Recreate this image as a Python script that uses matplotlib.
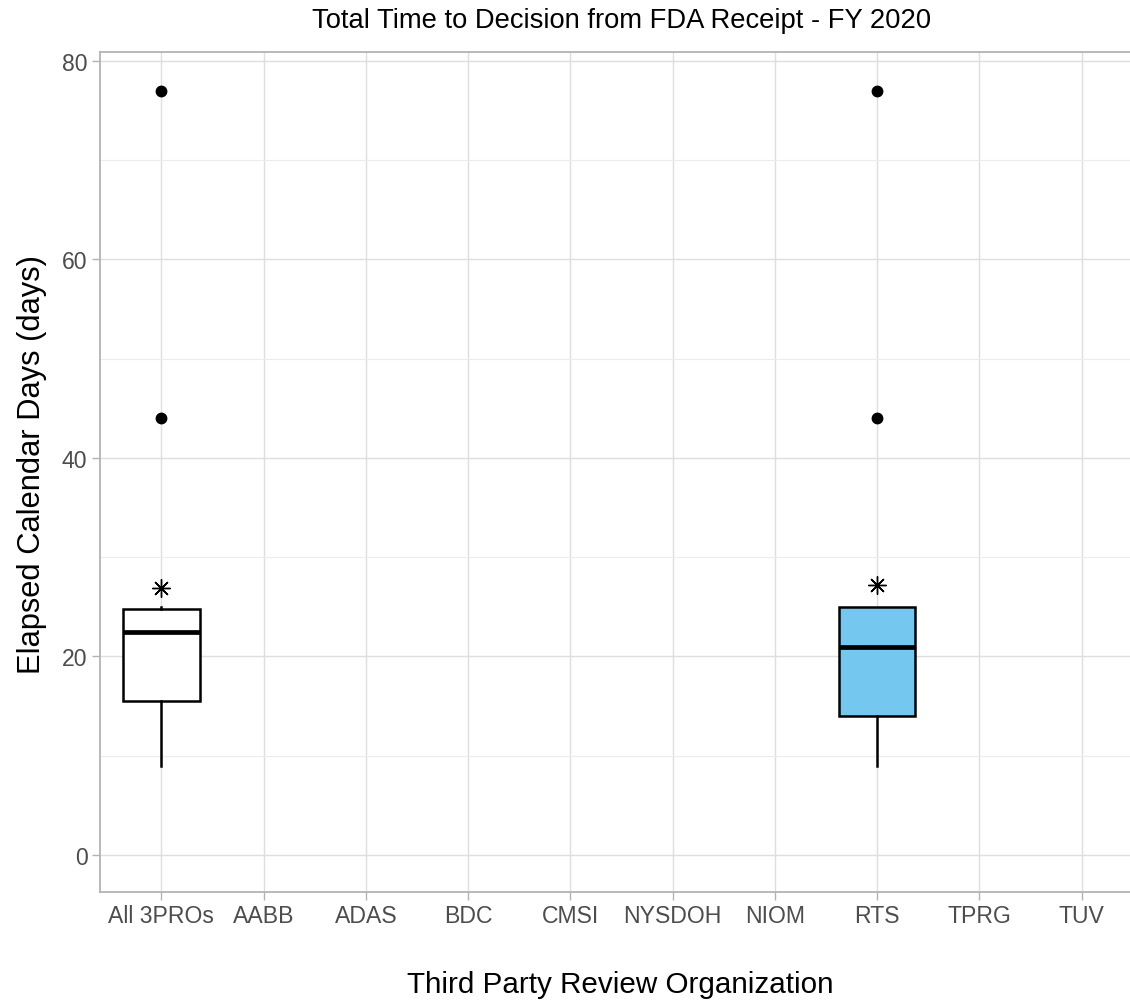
import numpy as np
import matplotlib
matplotlib.use("Agg")
import matplotlib.pyplot as plt
from matplotlib.ticker import MultipleLocator

# data
organizations = ["All 3PROs", "AABB", "ADAS", "BDC", "CMSI", "NYSDOH", "NIOM", "RTS", "TPRG", "TUV"]
box_groups = ["All 3PROs", "RTS"]
box_q1 = [15.5, 14.0]
box_median = [22.5, 21.0]
box_q3 = [24.8, 25.0]
whisker_low = [9.0, 9.0]
whisker_high = [25.0, 25.0]
outliers = [[44.0, 77.0], [44.0, 77.0]]
means = [26.9, 27.2]
box_colors = ["#FFFFFF", "#74C7EE"]

plt.rcParams["font.family"] = ["Liberation Sans", "DejaVu Sans"]

W, H = 1130, 1003
fig = plt.figure(figsize=(W / 100, H / 100), dpi=100)
# panel runs past the right edge of the picture, as in the reference
ax = fig.add_axes([100 / W, 1 - 893 / H, 1043 / W, 840 / H])

positions = [organizations.index(g) + 1 for g in box_groups]

stats = []
for i in range(len(box_groups)):
    stats.append({
        "med": box_median[i], "q1": box_q1[i], "q3": box_q3[i],
        "whislo": whisker_low[i], "whishi": whisker_high[i],
        "fliers": outliers[i], "mean": means[i], "label": box_groups[i],
    })

bp = ax.bxp(stats, positions=positions, widths=0.75, patch_artist=True,
            showcaps=False, showmeans=False, manage_ticks=False,
            boxprops=dict(edgecolor="black", linewidth=1.8),
            medianprops=dict(color="black", linewidth=3.4, solid_capstyle="butt"),
            whiskerprops=dict(color="black", linewidth=1.8),
            flierprops=dict(marker="o", markerfacecolor="black", markeredgecolor="black",
                            markersize=7.5))
for patch, c in zip(bp["boxes"], box_colors):
    patch.set_facecolor(c)
    patch.set_zorder(3)
for key in ["medians", "whiskers", "fliers"]:
    for a in bp[key]:
        a.set_zorder(4)

ax.plot(positions, means, linestyle="none", marker=(8, 2, 0), markersize=13,
        markeredgewidth=1.0, color="black", zorder=5)

ax.set_xlim(0.4, len(organizations) + 0.6)
ax.set_ylim(-3.73, 80.9)
ax.set_xticks(range(1, len(organizations) + 1))
ax.set_xticklabels(organizations)
ax.yaxis.set_major_locator(MultipleLocator(20))
ax.yaxis.set_minor_locator(MultipleLocator(10))

ax.grid(which="major", color="#DEDEDE", linewidth=1.0, zorder=0)
ax.grid(which="minor", axis="y", color="#ECECEC", linewidth=0.8, zorder=0)
ax.set_axisbelow(True)

for s in ax.spines.values():
    s.set_color("#B3B3B3")
    s.set_linewidth(1.3)
ax.spines["right"].set_visible(False)

ax.tick_params(axis="both", which="major", color="#B3B3B3", length=5.5, width=1.0,
               labelsize=16.6, labelcolor="#4D4D4D", pad=3.5)
ax.tick_params(axis="y", which="minor", length=0)

fig.text(621.5 / W, 1 - 21 / H, "Total Time to Decision from FDA Receipt - FY 2020",
         ha="center", va="center", fontsize=19.7)
fig.text(620 / W, 1 - 985 / H, "Third Party Review Organization",
         ha="center", va="center", fontsize=21.3)
fig.text(32 / W, 1 - 465 / H, "Elapsed Calendar Days (days)",
         ha="center", va="center", rotation=90, fontsize=22.2)

fig.savefig("out.png", dpi=100)
